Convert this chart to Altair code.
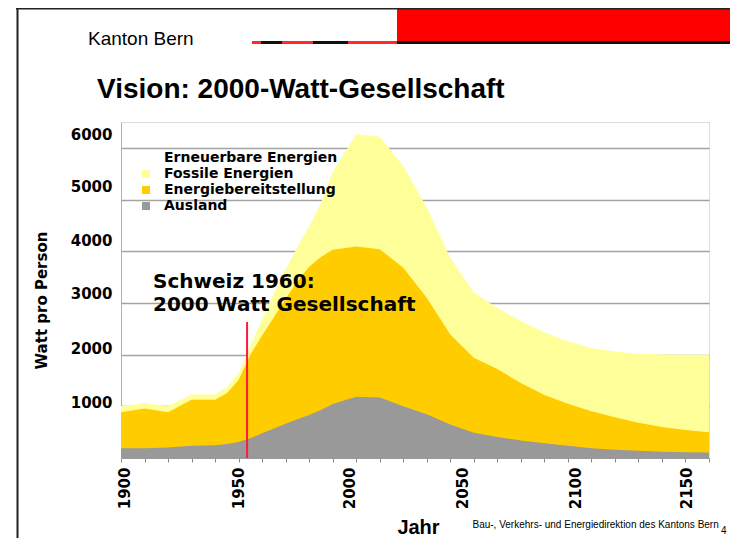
import altair as alt
import pandas as pd

# ---------------- data ----------------
years = [1900, 1910, 1920, 1930, 1940, 1945, 1950, 1955, 1960, 1965, 1970, 1975,
         1980, 1985, 1990, 2000, 2010, 2020, 2030, 2040, 2050, 2060, 2070, 2080,
         2090, 2100, 2110, 2120, 2130, 2140, 2150]
# upper edge of the light-yellow band (Fossile Energien)
fossil_top = [1000, 1065, 1000, 1230, 1230, 1370, 1640, 2170, 2680, 3180, 3650, 4080,
              4480, 4930, 5530, 6265, 6220, 5650, 4845, 3870, 3200, 2900, 2650, 2430,
              2260, 2130, 2060, 2015, 2000, 1998, 1997]
# upper edge of the gold band (Energiebereitstellung)
supply_top = [885, 960, 885, 1125, 1125, 1254, 1510, 1995, 2370, 2725, 3080, 3420,
              3700, 3890, 4030, 4090, 4040, 3680, 3100, 2390, 1940, 1720, 1450, 1220,
              1050, 905, 790, 680, 600, 540, 500]
# upper edge of the grey band (Ausland)
abroad_top = [190, 190, 205, 235, 248, 270, 310, 380, 480, 570, 665, 750,
              830, 930, 1045, 1185, 1170, 1000, 846, 650, 490, 405, 340, 285,
              235, 190, 160, 140, 120, 110, 105]

series_names = ["Erneuerbare Energien", "Fossile Energien", "Energiebereitstellung", "Ausland"]
series_colors = ["#FFFFFF", "#FFFF99", "#FFCC00", "#999999"]

grid_values = [1000, 2000, 3000, 4000, 5000, 6000]
tick_years = list(range(1900, 2151, 10))
# printed tick labels sit slightly off the grid in the original slide
y_label_positions = [1070, 2122, 3173, 4198, 5249, 6249]
x_label_positions = [1901.7, 1949.9, 1997.3, 2045.4, 2093.4, 2140.6]

marker_year = [1953.6]
marker_top = [2631]
marker_base = [0]

note_years = [1913.6, 1913.6]
note_values = [3411, 2960]
note_lines = ["Schweiz 1960:", "2000 Watt Gesellschaft"]

# ---------------- chart ----------------
W, H = 588, 336
xscale = alt.Scale(domain=[1900, 2150], nice=False, zero=False)
yscale = alt.Scale(domain=[0, 6500], nice=False)
cscale = alt.Scale(domain=series_names, range=series_colors)
legend = alt.Legend(orient="none", legendX=18, legendY=29, title=None,
                    symbolType="square", symbolSize=64, symbolStrokeWidth=0,
                    labelFont="DejaVu Sans", labelFontWeight="bold", labelFontSize=14,
                    labelColor="#000000", labelOffset=11, labelLimit=0,
                    rowPadding=2, padding=0)

grid_x_axis = alt.Axis(orient="bottom", values=tick_years, labels=False, ticks=True,
                       tickSize=4, tickColor="#888888", domain=True, domainColor="#9a9a9a",
                       grid=False, title=None)
grid_y_axis = alt.Axis(orient="left", values=grid_values, labels=False, ticks=False,
                       domain=True, domainColor="#b0b0b0", grid=True,
                       gridColor="#a3a3a3", gridWidth=1.5, title=None)


def band(values, name, first):
    d = pd.DataFrame({"Jahr": years, "Watt": values, "Serie": name})
    return alt.Chart(d).mark_area(interpolate="linear").encode(
        x=alt.X("Jahr:Q", scale=xscale, axis=grid_x_axis if first else None),
        y=alt.Y("Watt:Q", scale=yscale, stack=None, axis=grid_y_axis if first else None),
        color=alt.Color("Serie:N", scale=cscale, legend=legend),
    )


areas = [band(fossil_top, "Fossile Energien", True),
         band(supply_top, "Energiebereitstellung", False),
         band(abroad_top, "Ausland", False)]

label_x_axis = alt.Axis(orient="bottom", values=x_label_positions,
                        labelExpr="format(round(datum.value/50)*50, 'd')",
                        labelAngle=270, labelFont="DejaVu Sans", labelFontWeight="bold",
                        labelFontSize=15, labelColor="#000000", labelPadding=9,
                        labelFlush=False, labelOverlap=False, ticks=False, tickSize=0,
                        domain=False, grid=False,
                        title="Jahr", titleFont="Liberation Sans", titleFontWeight="bold",
                        titleFontSize=20, titleColor="#000000", titleX=297, titleY=75,
                        titleAlign="center", titleBaseline="alphabetic")
label_y_axis = alt.Axis(orient="left", values=y_label_positions,
                        labelExpr="format(round(datum.value/1000)*1000, 'd')",
                        labelFont="DejaVu Sans", labelFontWeight="bold", labelFontSize=15,
                        labelColor="#000000", labelPadding=9, labelFlush=False,
                        labelOverlap=False, ticks=False, tickSize=0, domain=False, grid=False,
                        title="Watt pro Person", titleFont="DejaVu Sans",
                        titleFontWeight="bold", titleFontSize=15, titleColor="#000000",
                        titleAngle=270, titleX=-80, titleY=178, titleAlign="center",
                        titleBaseline="middle")

marker = alt.Chart(pd.DataFrame({"Jahr": marker_year, "Watt": marker_top,
                                 "Basis": marker_base})).mark_rule(
    color="#ff1a3c", strokeWidth=2).encode(
    x=alt.X("Jahr:Q", scale=xscale, axis=label_x_axis),
    y=alt.Y("Watt:Q", scale=yscale, axis=label_y_axis),
    y2="Basis:Q",
)

note = alt.Chart(pd.DataFrame({"Jahr": note_years, "Watt": note_values,
                               "Text": note_lines})).mark_text(
    align="left", baseline="middle", font="DejaVu Sans", fontWeight="bold",
    fontSize=20, color="#000000").encode(
    x=alt.X("Jahr:Q", scale=xscale, axis=None),
    y=alt.Y("Watt:Q", scale=yscale, axis=None),
    text="Text:N",
)

# ---------------- slide decoration ----------------
deco = pd.DataFrame({"d": [0]})
RIGHT = 609   # right edge of the drawing, in plot coordinates


def hline(x1, x2, y, color, w):
    return alt.Chart(deco).mark_rule(color=color, strokeWidth=w).encode(
        x=alt.value(x1), x2=alt.value(x2), y=alt.value(y))


def label(text, x, y, size, weight="normal", font="Liberation Sans", align="left"):
    return alt.Chart(deco).mark_text(align=align, baseline="alphabetic", font=font,
                                     fontSize=size, fontWeight=weight,
                                     color="#000000").encode(
        x=alt.value(x), y=alt.value(y), text=alt.value(text))


decor = [
    alt.Chart(deco).mark_rect(color="#ff0000").encode(
        x=alt.value(276), x2=alt.value(RIGHT), y=alt.value(-113), y2=alt.value(-80)),
    hline(-105, RIGHT, -113.5, "#222222", 2),
    alt.Chart(deco).mark_rule(color="#222222", strokeWidth=2).encode(
        x=alt.value(-103.5), y=alt.value(-114.5), y2=alt.value(420)),
    hline(131, 140, -79.5, "#ff2a2a", 3),
    hline(140, 161, -79.5, "#111111", 3),
    hline(161, 192, -79.5, "#ff2a2a", 3),
    hline(192, 227, -79.5, "#111111", 3),
    hline(227, 276, -79.5, "#ff2a2a", 3),
    hline(276, RIGHT, -79.5, "#111111", 3),
    label("Kanton Bern", -33, -77, 19),
    label("Vision: 2000-Watt-Gesellschaft", -24, -24, 28, weight="bold"),
    label("Bau-, Verkehrs- und Energiedirektion des Kantons Bern", 351.5, 406, 10),
    label("4", 600, 412, 10),
]

chart = alt.layer(*decor, *areas, marker, note).resolve_axis(
    x="independent", y="independent"
).properties(
    width=W, height=H,
    padding={"left": 113, "top": 114, "right": 21, "bottom": 80},
    autosize=alt.AutoSizeParams(type="none"),
).configure_view(stroke=None).configure(background="#ffffff")

chart.save("out.html", embed_options={"renderer": "svg", "actions": False})
